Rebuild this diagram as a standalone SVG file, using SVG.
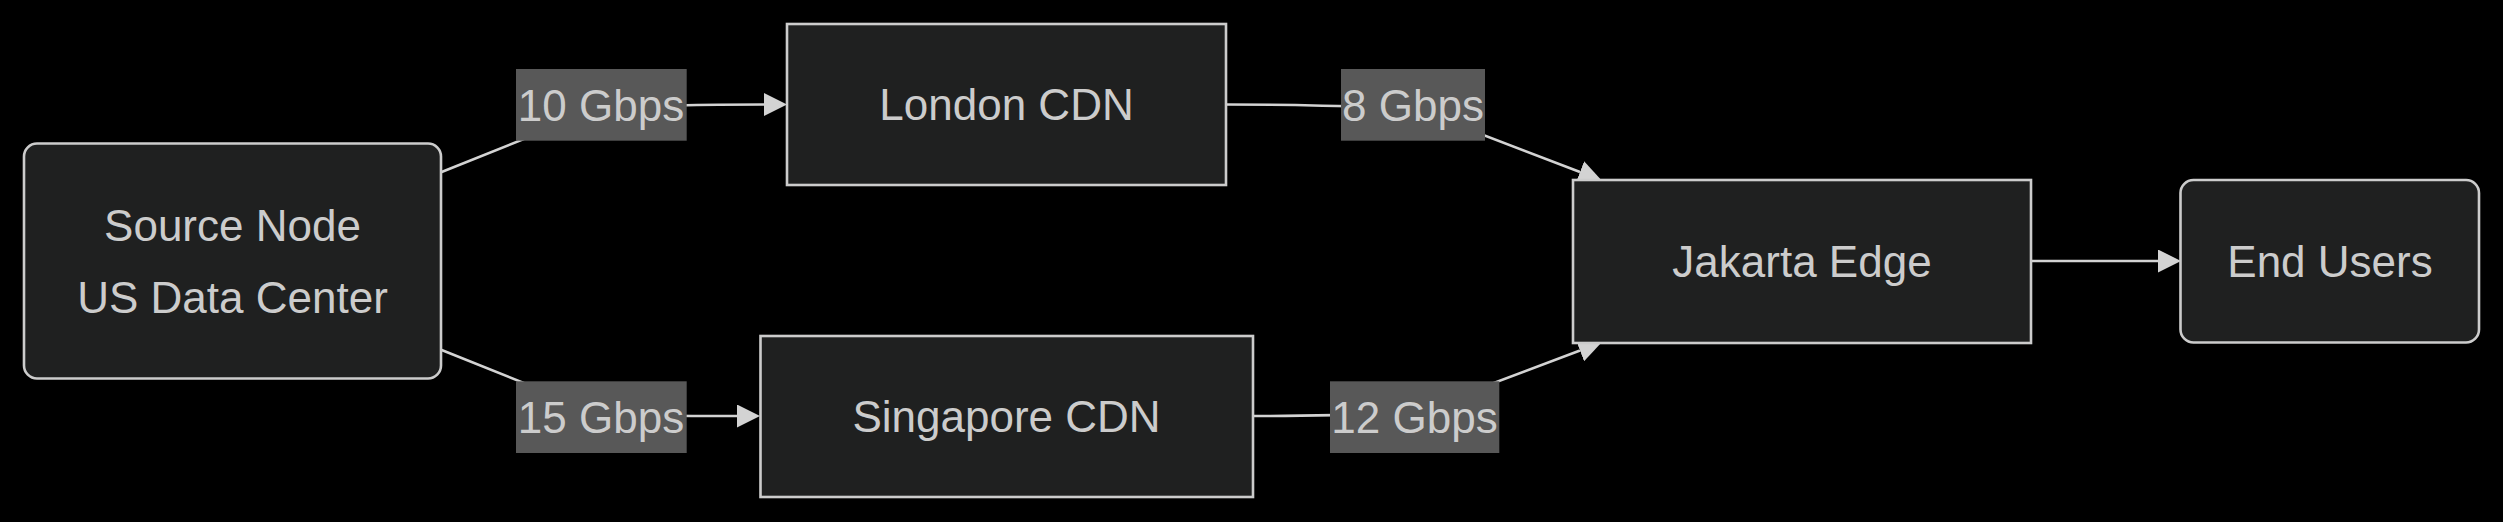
<svg xmlns="http://www.w3.org/2000/svg" width="2503" height="522" viewBox="0 0 2503 522">
<style>
.node rect{fill:#1f2020;stroke:#cccccc;stroke-width:2.6}
.lbl{font-family:"Liberation Sans",Arial,sans-serif;font-size:44px;fill:#cccccc;text-anchor:middle}
.edge{fill:none;stroke:#d3d3d3;stroke-width:2.6}
.elbl rect{fill:#585858}
</style>
<defs>
<marker id="arr" viewBox="0 0 23 23" refX="0" refY="11.5" markerWidth="23" markerHeight="23" markerUnits="userSpaceOnUse" orient="auto">
<path d="M0,0 L23,11.5 L0,23 z" fill="#d3d3d3"/>
</marker>
</defs>
<rect x="0" y="0" width="2503" height="522" fill="#000000"/>
<g id="connectors">
<path class="edge" d="M441,172.3 L601,108 C640,106 700,104.5 764,104.5" marker-end="url(#arr)"/>
<path class="edge" d="M441,349.7 L601,414 C640,416 700,416 737,416" marker-end="url(#arr)"/>
<path class="edge" d="M1226,104.5 C1300,104.5 1340,106 1413,108 L1580,172" marker-end="url(#arr)"/>
<path class="edge" d="M1253,416 C1320,416 1350,415 1414,413 L1580,350.5" marker-end="url(#arr)"/>
<path class="edge" d="M2031,261 L2158,261" marker-end="url(#arr)"/>
</g>
<g id="edge-labels">
<g class="elbl" id="label-10"><rect x="516" y="69" width="170.7" height="71.7"/><text class="lbl" x="601" y="120.6">10 Gbps</text></g>
<g class="elbl" id="label-15"><rect x="516" y="381.3" width="170.7" height="71.7"/><text class="lbl" x="601" y="432.9">15 Gbps</text></g>
<g class="elbl" id="label-8"><rect x="1341" y="69" width="144" height="71.7"/><text class="lbl" x="1413" y="120.6">8 Gbps</text></g>
<g class="elbl" id="label-12"><rect x="1330" y="381.3" width="169.3" height="71.7"/><text class="lbl" x="1414.5" y="432.9">12 Gbps</text></g>
</g>
<g id="source" class="node">
<rect x="24" y="143.5" width="417" height="235" rx="13" ry="13"/>
<text class="lbl" x="232.5" y="240.5">Source Node</text>
<text class="lbl" x="232.5" y="312.5">US Data Center</text>
</g>
<g id="london" class="node">
<rect x="787" y="24" width="439" height="161"/>
<text class="lbl" x="1006.5" y="120.2">London CDN</text>
</g>
<g id="singapore" class="node">
<rect x="760.5" y="336" width="492.5" height="161"/>
<text class="lbl" x="1006.5" y="431.7">Singapore CDN</text>
</g>
<g id="jakarta" class="node">
<rect x="1573" y="180" width="458" height="163"/>
<text class="lbl" x="1802" y="276.7">Jakarta Edge</text>
</g>
<g id="endusers" class="node">
<rect x="2180.5" y="180" width="298.5" height="162.5" rx="13" ry="13"/>
<text class="lbl" x="2330" y="276.7">End Users</text>
</g>
</svg>
